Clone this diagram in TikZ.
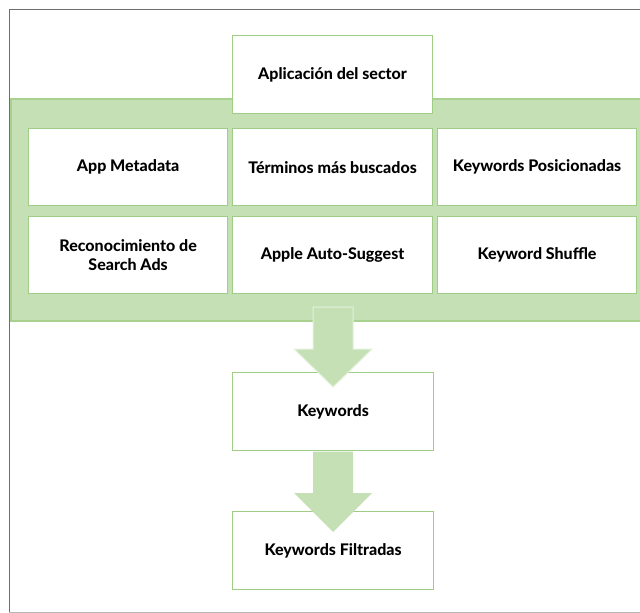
\documentclass[tikz,border=0pt]{standalone}
\usepackage{fontspec}
\setmainfont{Lato}[BoldFont={Lato Heavy}]
\usetikzlibrary{calc}
\definecolor{bandfill}{HTML}{C5E0B4}
\definecolor{bandline}{HTML}{A9D18E}
\definecolor{boxline}{HTML}{9FCD85}
\definecolor{arrowline}{HTML}{E4F1DC}
\definecolor{frameline}{HTML}{6E6E6E}
\tikzset{
  x=1pt, y=-1pt,
  card/.style={draw=boxline, line width=1.2pt, fill=white, inner sep=0pt,
    font=\fontsize{16}{19}\selectfont\bfseries, align=center},
  band/.style={draw=bandline, line width=1.5pt, fill=bandfill},
  blockarrow/.style={fill=bandfill, draw=arrowline, line width=1pt, line join=miter},
}
\begin{document}
\begin{tikzpicture}
\useasboundingbox (0,0) rectangle (640,613);
\fill[white] (0,0) rectangle (640,613);
% frame
\draw[frameline, line width=1pt] (640,9) -- (9,9) -- (9,613);
\draw[frameline!50, line width=0.8pt] (9,612) -- (640,612);
% green band
\node[band, minimum width=632, minimum height=222, inner sep=0pt, anchor=north west] (band) at (10,98) {};
% top box
\node[card, minimum width=200, minimum height=78, anchor=north west] (app) at (232,35) {Aplicación del sector};
% grid
\node[card, minimum width=199, minimum height=77, anchor=north west] (meta) at (28,128) {App Metadata};
\node[card, minimum width=200, minimum height=77, anchor=north west] (term) at (232,128) {Términos más buscados};
\node[card, minimum width=199, minimum height=77, anchor=north west] (pos) at (437,128) {Keywords Posicionadas};
\node[card, minimum width=199, minimum height=77, anchor=north west] (recon) at (28,216) {Reconocimiento de\\Search Ads};
\node[card, minimum width=200, minimum height=77, anchor=north west] (apple) at (232,216) {Apple Auto-Suggest};
\node[card, minimum width=199, minimum height=77, anchor=north west] (shuf) at (437,216) {Keyword Shuffle};
% lower boxes
\node[card, minimum width=201, minimum height=78, anchor=north west] (kw) at (232,372) {Keywords};
\node[card, minimum width=201, minimum height=78, anchor=north west] (kwf) at (232,511) {Keywords Filtradas};
% block arrows
\coordinate (a1s) at ($(kw.north)+(0,-65)$);
\coordinate (a1t) at ($(kw.north)+(0,15)$);
\draw[blockarrow] ($(a1s)+(-20,0)$) -- ($(a1s)+(20,0)$) -- ($(a1t)+(20,-38)$) -- ($(a1t)+(39,-38)$)
  -- (a1t) -- ($(a1t)+(-39,-38)$) -- ($(a1t)+(-20,-38)$) -- cycle;
\coordinate (a2s) at (kw.south);
\coordinate (a2t) at ($(kwf.north)+(0,21)$);
\fill[bandfill] ($(a2s)+(-20,0.5)$) -- ($(a2s)+(20,0.5)$) -- ($(a2t)+(20,-39)$) -- ($(a2t)+(39,-39)$)
  -- (a2t) -- ($(a2t)+(-39,-39)$) -- ($(a2t)+(-20,-39)$) -- cycle;
\end{tikzpicture}
\end{document}
